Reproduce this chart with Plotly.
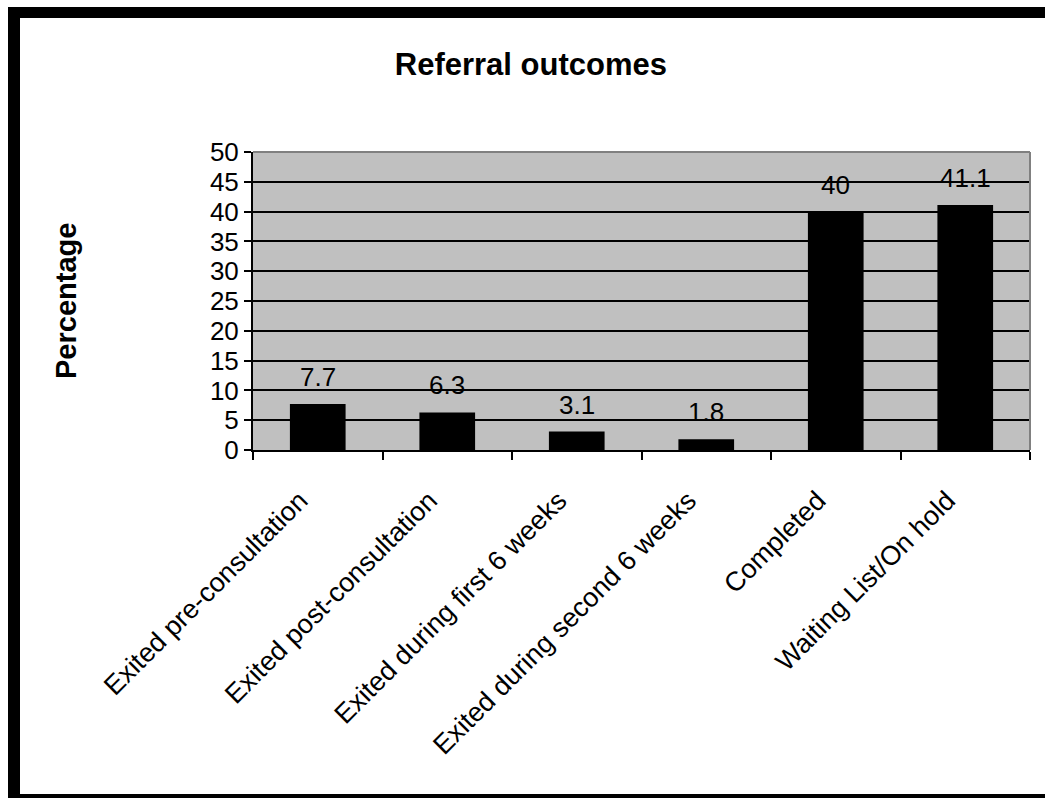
import plotly.graph_objects as go

# Referral outcome categories and their percentages
categories = [
    "Exited pre-consultation",
    "Exited post-consultation",
    "Exited during first 6 weeks",
    "Exited during second 6 weeks",
    "Completed",
    "Waiting List/On hold",
]
percentages = [7.7, 6.3, 3.1, 1.8, 40, 41.1]
value_labels = ["7.7", "6.3", "3.1", "1.8", "40", "41.1"]
y_ticks = [0, 5, 10, 15, 20, 25, 30, 35, 40, 45, 50]

W, H = 1045, 798
L, R, T, B = 253, 1030, 152, 450  # plot-area edges in pixels

FONT = "Liberation Sans, Arial, sans-serif"


def px_x(x):
    return (x - L) / (R - L)


def px_y(y):
    return (B - y) / (B - T)


fig = go.Figure(
    go.Bar(
        x=categories,
        y=percentages,
        marker=dict(color="black", line=dict(width=0)),
        hoverinfo="x+y",
    )
)

# value labels above each bar
annotations = [
    dict(
        x=c, y=v, text=t, xref="x", yref="y",
        yanchor="bottom", xanchor="center", yshift=10, showarrow=False,
        font=dict(family=FONT, size=26, color="black"),
    )
    for c, v, t in zip(categories, percentages, value_labels)
]

# y-axis title
annotations.append(dict(
    x=px_x(66), y=0.5, xref="paper", yref="paper", text="<b>Percentage</b>",
    textangle=-90, showarrow=False, xanchor="center", yanchor="middle",
    font=dict(family=FONT, size=29, color="black"),
))

shapes = [
    # grey frame on top and right of the plot area
    dict(type="line", xref="paper", yref="paper", x0=0, x1=1, y0=1, y1=1,
         line=dict(color="#808080", width=2)),
    dict(type="line", xref="paper", yref="paper", x0=1, x1=1, y0=0, y1=1,
         line=dict(color="#808080", width=2)),
    # heavy black outer border
    dict(type="rect", xref="paper", yref="paper", layer="above",
         x0=px_x(8), x1=px_x(20), y0=px_y(810), y1=px_y(7),
         fillcolor="black", line=dict(width=0)),
    dict(type="rect", xref="paper", yref="paper", layer="above",
         x0=px_x(8), x1=px_x(1060), y0=px_y(18), y1=px_y(7),
         fillcolor="black", line=dict(width=0)),
    dict(type="rect", xref="paper", yref="paper", layer="above",
         x0=px_x(8), x1=px_x(1060), y0=px_y(810), y1=px_y(794),
         fillcolor="black", line=dict(width=0)),
]

fig.update_layout(
    width=W, height=H,
    margin=dict(l=L, r=W - R, t=T, b=H - B, pad=0),
    paper_bgcolor="white",
    plot_bgcolor="#C0C0C0",
    bargap=0.57,
    showlegend=False,
    title=dict(
        text="<b>Referral outcomes</b>",
        x=0.508, xref="container", xanchor="center",
        y=1 - 64 / H, yref="container", yanchor="middle",
        font=dict(family=FONT, size=31, color="black"),
    ),
    font=dict(family=FONT, size=26, color="black"),
    xaxis=dict(
        tickangle=-45,
        ticks="outside", tickson="boundaries", ticklen=8, tickwidth=2,
        tickcolor="black",
        ticklabelstandoff=22, ticklabelshift=-18,
        showline=True, linecolor="black", linewidth=2,
        showgrid=False,
        tickfont=dict(family=FONT, size=27, color="black"),
    ),
    yaxis=dict(
        range=[0, 50], tickvals=y_ticks,
        ticks="outside", ticklen=7, tickwidth=2, tickcolor="black",
        showline=True, linecolor="black", linewidth=2,
        showgrid=True, gridcolor="black", gridwidth=2,
        zeroline=False,
        tickfont=dict(family=FONT, size=26, color="black"),
    ),
    annotations=annotations,
    shapes=shapes,
)

fig.write_html("out.html")
